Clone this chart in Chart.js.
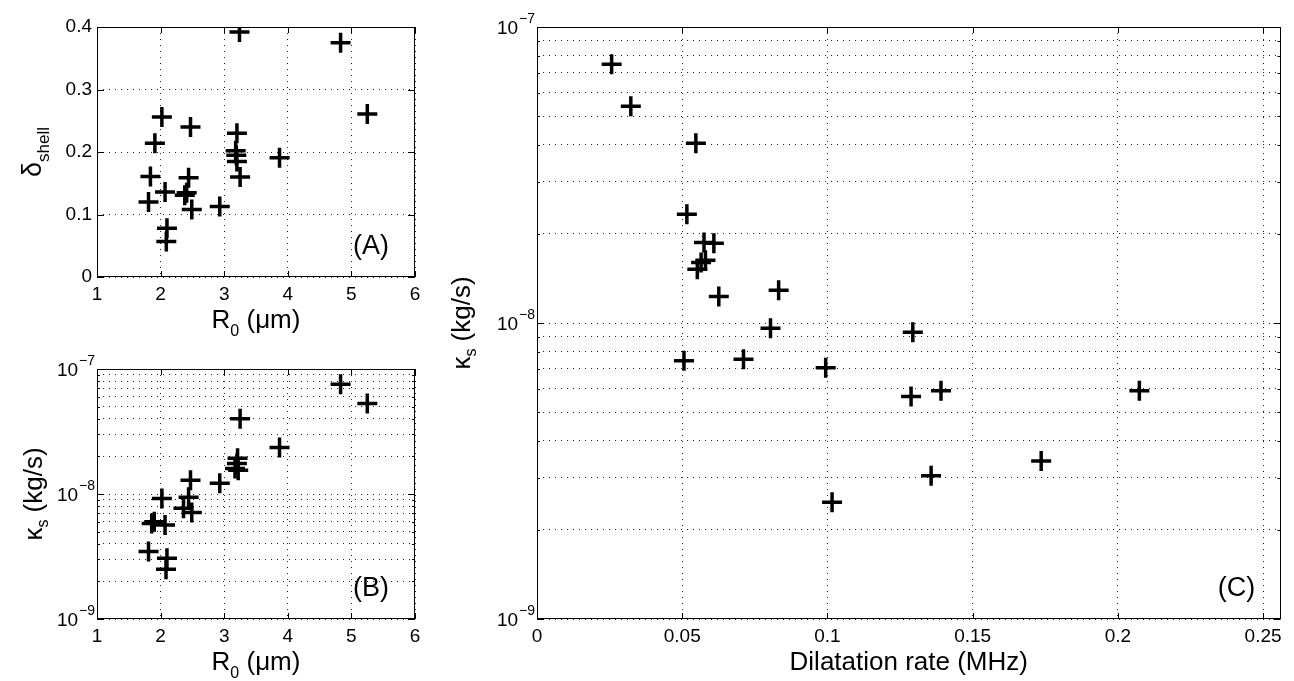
<!DOCTYPE html>
<html>
<head>
<meta charset="utf-8">
<script src="https://cdn.jsdelivr.net/npm/chart.js@4.4.0/dist/chart.umd.min.js"></script>
<style>
  body { margin: 0; background: #fff; width: 1294px; height: 681px; position: relative; overflow: hidden; }
  canvas { position: absolute; }
</style>
</head>
<body>
<canvas id="panelA" width="430" height="340" style="left:0;top:0"></canvas>
<canvas id="panelB" width="430" height="341" style="left:0;top:340px"></canvas>
<canvas id="panelC" width="864" height="681" style="left:430px;top:0"></canvas>
<script>
// (A) shell thickness parameter against resting radius R0 (um)
const radiusA = [3.24, 4.83, 5.25, 2.02, 2.47, 1.91, 3.20, 3.18, 3.19, 3.20, 3.25, 3.87, 1.84, 2.44, 2.07, 2.41, 2.38, 1.81, 2.49, 2.93, 2.10, 2.09];
const deltaShell = [0.392, 0.375, 0.261, 0.256, 0.240, 0.214, 0.230, 0.202, 0.195, 0.185, 0.160, 0.191, 0.161, 0.159, 0.136, 0.135, 0.131, 0.120, 0.108, 0.113, 0.078, 0.057];

// (B) shell viscosity (kg/s) against resting radius
const radiusB = [4.83, 5.25, 3.25, 3.87, 3.21, 3.20, 3.17, 3.22, 2.93, 2.47, 2.02, 2.44, 2.36, 2.49, 1.86, 1.90, 2.07, 1.81, 2.10, 2.085];
const kappaB = [7.55e-8, 5.3e-8, 4.0e-8, 2.35e-8, 1.93e-8, 1.75e-8, 1.6e-8, 1.55e-8, 1.22e-8, 1.29e-8, 9.2e-9, 9.4e-9, 7.7e-9, 7.1e-9, 5.8e-9, 6.0e-9, 5.65e-9, 3.46e-9, 3.06e-9, 2.5e-9];

// (C) shell viscosity against dilatation rate (MHz)
const dilatationRate = [0.0257, 0.0323, 0.0547, 0.0516, 0.0575, 0.0609, 0.0580, 0.0565, 0.0552, 0.0626, 0.0832, 0.0804, 0.1294, 0.0506, 0.0711, 0.0994, 0.1016, 0.1288, 0.1391, 0.2074, 0.1736, 0.1357];
const kappaC = [7.48e-8, 5.4e-8, 4.05e-8, 2.33e-8, 1.87e-8, 1.86e-8, 1.63e-8, 1.6e-8, 1.52e-8, 1.23e-8, 1.29e-8, 9.6e-9, 9.3e-9, 7.45e-9, 7.55e-9, 7.06e-9, 2.48e-9, 5.64e-9, 5.9e-9, 5.9e-9, 3.42e-9, 3.05e-9];

const radiusTicks = [1, 2, 3, 4, 5, 6];
const deltaTicks = [0, 0.1, 0.2, 0.3, 0.4];
const rateTicks = [0, 0.05, 0.1, 0.15, 0.2, 0.25];
const kappaDecades = [-9, -8, -7];

const FONT = "'Liberation Sans', Arial, sans-serif";
const px = size => `${size}px ${FONT}`;

// 1..9 x 10^d for every decade, closing at the top decade
const kappaTicks = [];
kappaDecades.slice(0, -1).forEach(d => {
  for (let m = 1; m <= 9; m++) kappaTicks.push(m * Math.pow(10, d));
});
kappaTicks.push(Math.pow(10, kappaDecades[kappaDecades.length - 1]));

const isDecade = v => Math.abs(Math.log10(v) - Math.round(Math.log10(v))) < 1e-6;

// axis titles: [text, font size, baseline shift]
const radiusTitle = [['R', 26, 0], ['0', 16, 8], [' (\u03bcm)', 26, 0]];
const kappaTitle = [['\u03ba', 26, 0], ['s', 16, 6], [' (kg/s)', 26, 0]];
const deltaTitle = [['\u03b4', 27, 0], ['shell', 17, 8]];
const rateTitle = [['Dilatation rate (MHz)', 26, 0]];

// per-panel decoration, keyed by canvas id
const panels = {
  panelA: { letter: '(A)', log: false, xTitle: radiusTitle, yTitle: deltaTitle, yTitleX: 41 },
  panelB: { letter: '(B)', log: true, xTitle: radiusTitle, yTitle: kappaTitle, yTitleX: 42 },
  panelC: { letter: '(C)', log: true, xTitle: rateTitle, yTitle: kappaTitle, yTitleX: 40 }
};

// text with subscript pieces, centred on (x, y) baseline
function richText(ctx, parts, x, y, vertical) {
  ctx.save();
  ctx.translate(x, y);
  if (vertical) ctx.rotate(-Math.PI / 2);
  ctx.textBaseline = 'alphabetic';
  ctx.textAlign = 'left';
  let width = 0;
  parts.forEach(([text, size]) => { ctx.font = px(size); width += ctx.measureText(text).width; });
  let cx = -width / 2;
  parts.forEach(([text, size, shift]) => {
    ctx.font = px(size);
    ctx.fillText(text, cx, shift);
    cx += ctx.measureText(text).width;
  });
  ctx.restore();
}

const frame = {
  id: 'frame',
  afterDraw(chart) {
    const opts = panels[chart.canvas.id];
    const { ctx, chartArea: a, scales } = chart;
    const xs = scales.x, ys = scales.y;
    ctx.save();
    ctx.strokeStyle = '#000';
    ctx.lineWidth = 1;
    ctx.beginPath();
    // inward tick marks on all four sides
    xs.ticks.forEach(t => {
      const x = Math.round(xs.getPixelForValue(t.value)) + 0.5;
      ctx.moveTo(x, a.bottom); ctx.lineTo(x, a.bottom - 6);
      ctx.moveTo(x, a.top); ctx.lineTo(x, a.top + 6);
    });
    ys.ticks.forEach(t => {
      const y = Math.round(ys.getPixelForValue(t.value)) + 0.5;
      const len = opts.log && !isDecade(t.value) ? 3 : 7;
      ctx.moveTo(a.left, y); ctx.lineTo(a.left + len, y);
      ctx.moveTo(a.right, y); ctx.lineTo(a.right - len, y);
    });
    ctx.stroke();
    ctx.strokeRect(Math.round(a.left) + 0.5, Math.round(a.top) + 0.5, Math.round(a.width) - 1, Math.round(a.height) - 1);

    ctx.fillStyle = '#000';
    if (opts.log) {
      // decade labels as 10 with a raised exponent
      ctx.textAlign = 'right';
      ctx.textBaseline = 'alphabetic';
      kappaDecades.forEach(d => {
        const y = ys.getPixelForValue(Math.pow(10, d));
        const sup = '\u2212' + (-d);
        ctx.font = px(14);
        const w = ctx.measureText(sup).width;
        ctx.fillText(sup, a.left - 2, y - 4);
        ctx.font = px(19);
        ctx.fillText('10', a.left - 3 - w, y + 7);
      });
    }

    richText(ctx, opts.xTitle, (a.left + a.right) / 2, a.bottom + 51, false);
    richText(ctx, opts.yTitle, opts.yTitleX, (a.top + a.bottom) / 2, true);

    ctx.font = px(27);
    ctx.textAlign = 'center';
    ctx.textBaseline = 'middle';
    ctx.fillText(opts.letter, a.right - 44, a.bottom - 30);
    ctx.restore();
  }
};

function makeAxis(ticks, extra) {
  return Object.assign({
    afterBuildTicks: scale => { scale.ticks = ticks.map(value => ({ value })); },
    grid: { color: '#222', lineWidth: 1, drawTicks: false },
    border: { display: false, dash: [1, 5] },
    ticks: {
      color: '#000',
      font: { family: FONT, size: 19 },
      padding: 6,
      autoSkip: false,
      maxRotation: 0,
      callback: v => String(v)
    }
  }, extra);
}

function kappaAxis(width) {
  const ax = makeAxis(kappaTicks, {
    type: 'logarithmic', min: 1e-9, max: 1e-7,
    afterFit: s => { s.width = width; }
  });
  ax.ticks.callback = () => '';
  return ax;
}

function scatterPanel(id, xData, yData, cfg) {
  return new Chart(document.getElementById(id), {
    type: 'scatter',
    data: {
      datasets: [{
        data: xData.map((x, i) => ({ x, y: yData[i] })),
        pointStyle: 'cross',
        pointRadius: 10,
        pointBorderWidth: 3.5,
        pointBorderColor: '#000',
        showLine: false
      }]
    },
    options: {
      responsive: false,
      animation: false,
      events: [],
      layout: { padding: cfg.padding },
      plugins: { legend: { display: false }, tooltip: { enabled: false } },
      scales: { x: cfg.x, y: cfg.y }
    },
    plugins: [frame]
  });
}

const yA = makeAxis(deltaTicks, { type: 'linear', min: 0, max: 0.4, afterFit: s => { s.width = 97; } });
yA.ticks.padding = 5;

scatterPanel('panelA', radiusA, deltaShell, {
  padding: { left: 0, right: 15, top: 27, bottom: 0 },
  x: makeAxis(radiusTicks, { type: 'linear', min: 1, max: 6, afterFit: s => { s.height = 63; } }),
  y: yA
});

scatterPanel('panelB', radiusB, kappaB, {
  padding: { left: 0, right: 15, top: 29, bottom: 0 },
  x: makeAxis(radiusTicks, { type: 'linear', min: 1, max: 6, afterFit: s => { s.height = 62; } }),
  y: kappaAxis(97)
});

scatterPanel('panelC', dilatationRate, kappaC, {
  padding: { left: 0, right: 5, top: 27, bottom: 0 },
  x: makeAxis(rateTicks, { type: 'linear', min: 0, max: 0.256, afterFit: s => { s.height = 62; } }),
  y: kappaAxis(107)
});
</script>
</body>
</html>
